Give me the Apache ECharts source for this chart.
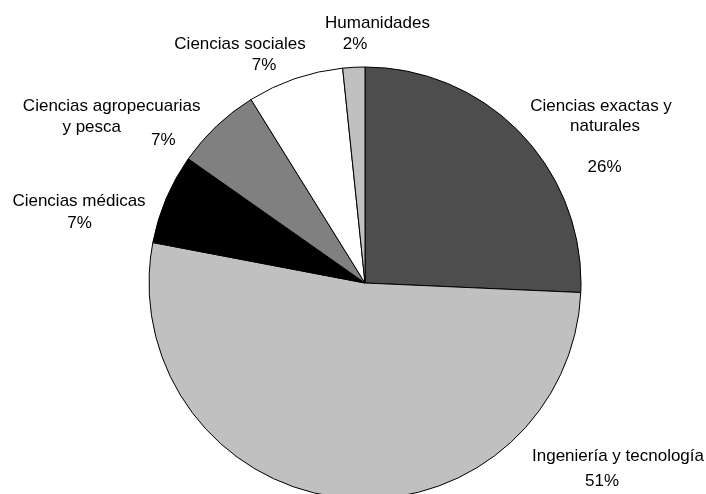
<!DOCTYPE html>
<html><head><meta charset="utf-8">
<script src="https://cdn.jsdelivr.net/npm/echarts@6/dist/echarts.min.js"></script>
<style>html,body{margin:0;padding:0;background:#fff}#c{width:706px;height:494px}</style>
</head><body><div id="c"></div>
<script>
// Slices clockwise from 12 o'clock
const categories = ['Ciencias exactas y\nnaturales', 'Ingeniería y tecnología', 'Ciencias médicas', 'Ciencias agropecuarias\ny pesca', 'Ciencias sociales', 'Humanidades'];
const values = [25.7, 52.3, 6.75, 6.4, 7.2, 1.65];
const percentLabels = ['26%', '51%', '7%', '7%', '7%', '2%'];
const sliceColors = ['#4d4d4d', '#c0c0c0', '#000000', '#808080', '#ffffff', '#c0c0c0'];

// Label text-line centres [x, y]: name lines, then percentage line
const labelLines = [
  [[601, 106], [605, 126], [604.5, 167.5]],
  [[618, 456], [602, 481]],
  [[79, 201], [79.5, 223.5]],
  [[111.7, 106], [91.7, 127.5], [163.3, 140]],
  [[240, 44.5], [264, 65.5]],
  [[377.5, 23.5], [355, 44]]
];
const FONT = 'Liberation Sans, Arial, sans-serif';

const layouts = [];
const data = categories.map((name, i) => {
  const lines = name.split('\n').concat([percentLabels[i]]);
  const pos = labelLines[i];
  const ax = pos[0][0];
  const lhs = [20];
  for (let k = 1; k < pos.length; k++) lhs.push(2 * (pos[k][1] - pos[k - 1][1]) - lhs[k - 1]);
  const rich = {};
  const text = lines.map((t, k) => {
    const s = pos[k][0] - ax;
    rich['t' + k] = {
      fontSize: 17, fontFamily: FONT, color: '#000', align: 'center',
      lineHeight: lhs[k], padding: [0, s < 0 ? -2 * s : 0, 0, s > 0 ? 2 * s : 0]
    };
    return '{t' + k + '|' + t + '}';
  }).join('\n');
  layouts.push({ x: ax, y: pos[0][1] - lhs[0] / 2 });
  return {
    value: values[i], name: name,
    itemStyle: { color: sliceColors[i] },
    label: { formatter: () => text, rich: rich }
  };
});

const chart = echarts.init(document.getElementById('c'));
chart.setOption({
  animation: false,
  backgroundColor: '#ffffff',
  series: [{
    type: 'pie',
    center: [365, 283],
    radius: 216,
    startAngle: 90,
    clockwise: true,
    avoidLabelOverlap: false,
    itemStyle: { borderColor: '#000', borderWidth: 1 },
    label: { show: true, position: 'outside', fontFamily: FONT, fontSize: 17, color: '#000' },
    labelLine: { show: false },
    labelLayout: (p) => ({ x: layouts[p.dataIndex].x, y: layouts[p.dataIndex].y, align: 'center', verticalAlign: 'top' }),
    emphasis: { disabled: true },
    data: data
  }]
});
</script></body></html>
